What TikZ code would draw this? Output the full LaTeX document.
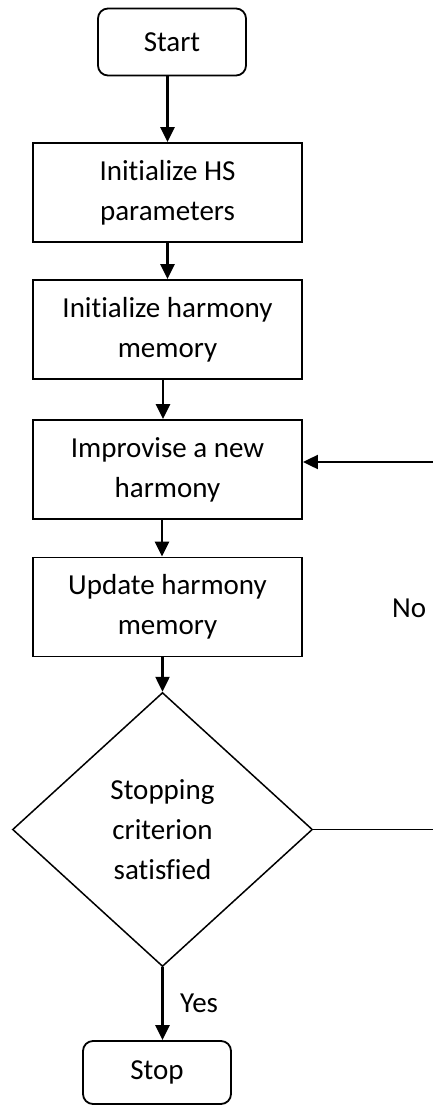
\documentclass[tikz,border=0pt]{standalone}
\usepackage{fontspec}
\setmainfont{Carlito}[Ligatures=NoCommon]
\usetikzlibrary{shapes.geometric,arrows.meta}

\begin{document}
\begin{tikzpicture}[x=1pt,y=-1pt,
  every node/.style={font=\fontsize{29}{40}\selectfont, inner sep=0pt},
  terminal/.style={draw, rounded corners=10pt, line width=1.8pt,
    minimum width=148pt, minimum height=67pt},
  stepbox/.style={draw, line width=1.9pt, align=center,
    minimum width=269pt, minimum height=99pt},
  decision/.style={draw, diamond, aspect=1.095, line width=1.5pt, align=center,
    minimum width=300pt, minimum height=274pt},
  flow/.style={line width=2.5pt, -{Triangle[length=15pt,width=14pt]}},
  plain/.style={line width=1.6pt}
]
\useasboundingbox (0,0) rectangle (433,1106);

% process chain
\node[terminal] (start) at (172,42) {Start};
\node[stepbox] (hspar) at (167.5,192.5) {Initialize HS\\parameters};
\node[stepbox] (hmem) at (167.5,329.5) {Initialize harmony\\memory};
\node[stepbox] (impro) at (167.5,469.5) {Improvise a new\\harmony};
\node[stepbox] (upd) at (167.5,607) {Update harmony\\memory};
\node[decision] (crit) at (162.5,829.5) {Stopping\\criterion\\satisfied};
\node[terminal, minimum height=63pt] (stop) at (157,1072.5) {Stop};

% branch labels
\node[anchor=base west] (yes) at (180,1012) {Yes};
\node[anchor=base west] (no) at (392,617) {No};

% loop-back ends at the right margin
\coordinate (loopA) at (433,829.5);
\coordinate (loopB) at (433,462);

% connectors
\draw[flow] (hspar.north |- start.south) -- (hspar.north);
\draw[flow] (hspar.south) -- (hmem.north);
\draw[flow] ([xshift=-4.5pt]hmem.south) -- ([xshift=-4.5pt]impro.north);
\draw[flow] ([xshift=-5.5pt]impro.south) -- ([xshift=-5.5pt]upd.north);
\draw[flow] (upd.south -| crit.north) -- (crit.north);
\draw[flow] (crit.south) -- (crit.south |- stop.north);
\draw[plain] (crit.east) -- (loopA);
\draw[flow, line width=2.2pt] (loopB) -- (loopB -| impro.east);
\end{tikzpicture}
\end{document}
